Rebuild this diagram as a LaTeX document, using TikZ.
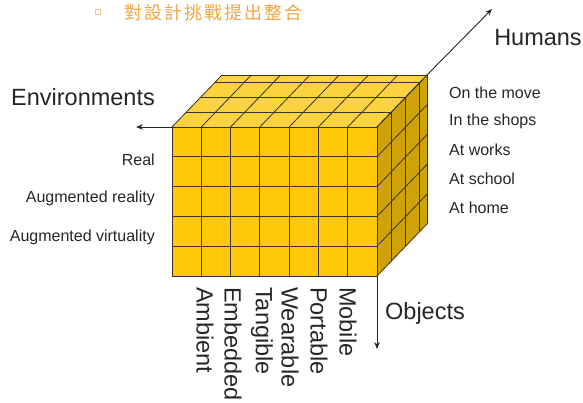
\documentclass[tikz,border=0pt]{standalone}
\usepackage{fontspec}
\setmainfont{Liberation Sans}
\newfontfamily\cjkfont[LetterSpace=11]{Noto Sans CJK TC}
\newfontfamily\symbfont{DejaVu Sans}
\usetikzlibrary{arrows.meta,calc}
\definecolor{frontc}{HTML}{FFC90A}
\definecolor{topc}{HTML}{FAD33E}
\definecolor{sidec}{HTML}{CFA20C}
\definecolor{gridc}{HTML}{3A3328}
\definecolor{titlec}{HTML}{F4A640}
\tikzset{
  gridline/.style={draw=gridc, line width=0.8pt},
  axisarrow/.style={draw=black!85, line width=0.9pt, -{Stealth[length=7pt,width=5.5pt]}},
  axislabel/.style={font=\fontsize{23.5}{26}\selectfont, text=black!85, inner sep=0pt},
  smalllabel/.style={font=\fontsize{16}{18}\selectfont, text=black!85, inner sep=0pt},
  objlabel/.style={font=\fontsize{23.5}{26}\selectfont, text=black!85, inner sep=0pt, rotate=-90, anchor=west}
}
\begin{document}
\begin{tikzpicture}[x=1pt,y=-1pt]
\useasboundingbox (0,0) rectangle (583,402);
\pgfmathsetmacro{\w}{205/7}
\pgfmathsetmacro{\h}{149/5}
\pgfmathsetmacro{\dx}{50/3.5}
\pgfmathsetmacro{\dy}{-52/3.5}
% corners
\coordinate (ftl) at (172,127);
\coordinate (ftr) at (377,127);
\coordinate (fbr) at (377,276);
\coordinate (fbl) at (172,276);
\coordinate (btl) at (222,75);
\coordinate (btr) at (427,75);
\coordinate (bbr) at (427,224);
% faces
\fill[frontc] (ftl) -- (ftr) -- (fbr) -- (fbl) -- cycle;
\fill[topc] (ftl) -- (ftr) -- (btr) -- (btl) -- cycle;
\fill[sidec] (ftr) -- (btr) -- (bbr) -- (fbr) -- cycle;
% front grid
\foreach \i in {0,...,7} { \draw[gridline] ($(ftl)+(\i*\w,0)$) -- ++(0,149); }
\foreach \j in {0,...,5} { \draw[gridline] ($(ftl)+(0,\j*\h)$) -- ++(205,0); }
% top grid
\foreach \d in {1,2,3,3.5} { \draw[gridline] ($(ftl)+(\d*\dx,\d*\dy)$) -- ++(205,0); }
\foreach \i in {0,...,7} { \draw[gridline] ($(ftl)+(\i*\w,0)$) -- ++(50,-52); }
% side grid
\foreach \d in {1,2,3,3.5} { \draw[gridline] ($(ftr)+(\d*\dx,\d*\dy)$) -- ++(0,149); }
\foreach \j in {0,...,5} { \draw[gridline] ($(ftr)+(0,\j*\h)$) -- ++(50,-52); }
% axes
\coordinate (envend) at (136,127);
\coordinate (humend) at (492,9);
\coordinate (objend) at (377,349);
\draw[axisarrow] (ftl) -- (envend);
\draw[axisarrow] (btr) -- (humend);
\draw[axisarrow] (fbr) -- (objend);
% axis labels
\node[axislabel] (env) at (83,97) {Environments};
\node[axislabel] (hum) at (538,38) {Humans};
\node[axislabel] (obj) at (425,313) {Objects};
% environment labels
\node[smalllabel, anchor=east] (real) at (155,160) {Real};
\node[smalllabel, anchor=east] (ar) at (155,198) {Augmented reality};
\node[smalllabel, anchor=east] (av) at (155,237) {Augmented virtuality};
% human labels
\node[smalllabel, anchor=west] (move) at (449,93) {On the move};
\node[smalllabel, anchor=west] (shops) at (449,121) {In the shops};
\node[smalllabel, anchor=west] (works) at (449,150) {At works};
\node[smalllabel, anchor=west] (school) at (449,179) {At school};
\node[smalllabel, anchor=west] (home) at (449,208) {At home};
% object labels
\node[objlabel] (amb) at (205,287) {Ambient};
\node[objlabel] (emb) at (233,287) {Embedded};
\node[objlabel] (tan) at (262,287) {Tangible};
\node[objlabel] (wea) at (290,287) {Wearable};
\node[objlabel] (por) at (319,287) {Portable};
\node[objlabel] (mob) at (348,287) {Mobile};
% title
\node[inner sep=0pt, text=titlec, font=\symbfont\fontsize{11}{12}\selectfont] (bullet) at (98,13) {▫};
\node[inner sep=0pt, anchor=west, text=titlec, font=\cjkfont\fontsize{18}{20}\selectfont] (title) at (124,13) {對設計挑戰提出整合};
\end{tikzpicture}
\end{document}
